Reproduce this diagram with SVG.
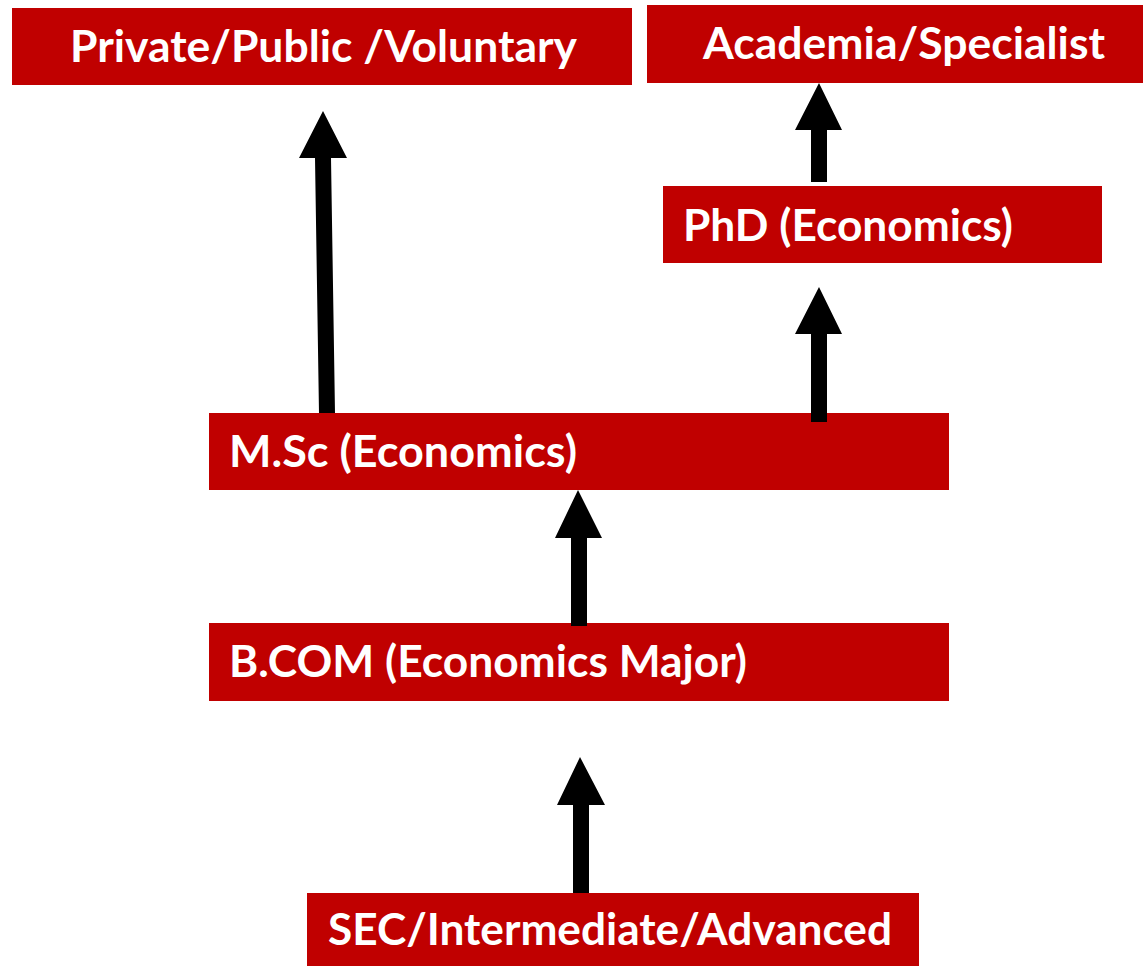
<svg xmlns="http://www.w3.org/2000/svg" width="1143" height="966" viewBox="0 0 1143 966">
<style>
.box{fill:#C00000}
.lbl{fill:#ffffff;font-family:Lato,"Open Sans","Liberation Sans",sans-serif;font-weight:bold;font-size:43px}
.arr{fill:#000000}
</style>
<rect width="1143" height="966" fill="#ffffff"/>
<g id="node-private">
<rect class="box" x="12" y="8" width="620" height="77"/>
<text class="lbl" x="70" y="62" textLength="507" lengthAdjust="spacingAndGlyphs">Private/Public /Voluntary</text>
</g>
<g id="node-academia">
<rect class="box" x="647" y="5" width="496" height="78"/>
<text class="lbl" x="703" y="59" textLength="402" lengthAdjust="spacingAndGlyphs">Academia/Specialist</text>
</g>
<g id="node-phd">
<rect class="box" x="663" y="186" width="439" height="77"/>
<text class="lbl" x="683" y="241" textLength="330" lengthAdjust="spacingAndGlyphs">PhD (Economics)</text>
</g>
<g id="node-msc">
<rect class="box" x="209" y="413" width="740" height="77"/>
<text class="lbl" x="229" y="467" textLength="348" lengthAdjust="spacingAndGlyphs">M.Sc (Economics)</text>
</g>
<g id="node-bcom">
<rect class="box" x="209" y="623" width="740" height="78"/>
<text class="lbl" x="229" y="677" textLength="518" lengthAdjust="spacingAndGlyphs">B.COM (Economics Major)</text>
</g>
<g id="node-sec">
<rect class="box" x="307" y="893" width="612" height="73"/>
<text class="lbl" x="328" y="945" textLength="564" lengthAdjust="spacingAndGlyphs">SEC/Intermediate/Advanced</text>
</g>
<g id="connectors">
<polygon class="arr" points="315,158 299,158 323,111 347,158 331,158 335,413 319,413"/>
<polygon class="arr" points="811,130 795,130 819,83 842,130 827,130 827,182 811,182"/>
<polygon class="arr" points="811,334 795,334 819,287 842,334 827,334 827,422 811,422"/>
<polygon class="arr" points="571,538 555,538 578,490 602,538 587,538 587,626 571,626"/>
<polygon class="arr" points="573,805 557,805 580,757 605,805 589,805 589,893 573,893"/>
</g>
</svg>
